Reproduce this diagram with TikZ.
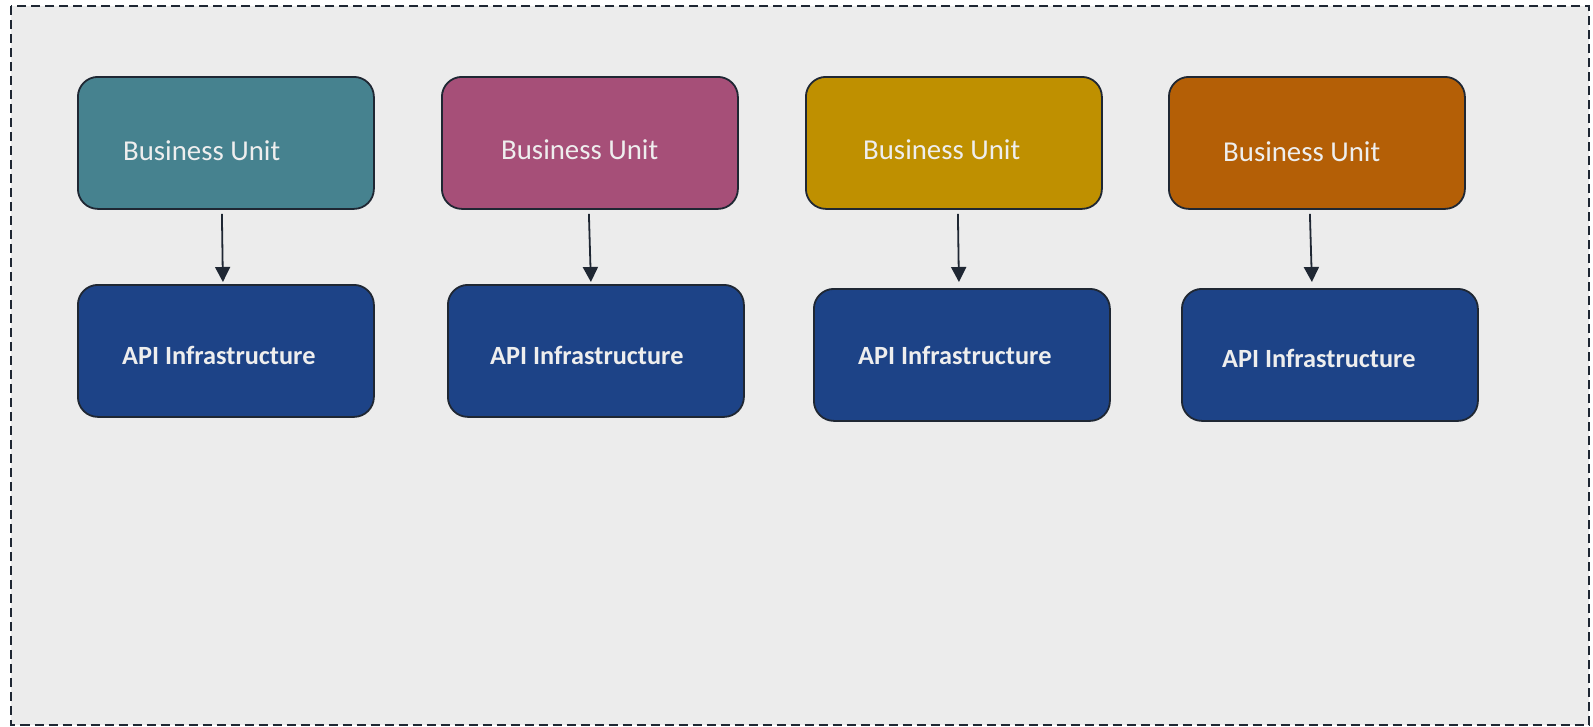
\documentclass[tikz,border=0pt]{standalone}
\usepackage{fontspec}
\setmainfont{Carlito}
\usetikzlibrary{arrows.meta,calc}
\definecolor{bg}{HTML}{ECECEC}
\definecolor{edge}{HTML}{1F2733}
\definecolor{txt}{HTML}{EEEEEE}
\definecolor{teal}{HTML}{46828F}
\definecolor{mag}{HTML}{A64F78}
\definecolor{gold}{HTML}{BF9000}
\definecolor{rust}{HTML}{B45F06}
\definecolor{navy}{HTML}{1D4387}
\begin{document}
\begin{tikzpicture}[x=1pt,y=-1pt,
  box/.style={draw=edge,line width=1.8pt,rounded corners=20pt,minimum width=296pt,minimum height=132pt,inner sep=0pt,anchor=north west},
  butext/.style={anchor=base west,inner sep=0pt,text=txt,font=\fontsize{28.8}{30}\selectfont},
  apitext/.style={anchor=base west,inner sep=0pt,text=txt,font=\bfseries\fontsize{26.3}{28}\selectfont},
  arr/.style={draw=edge,line width=1.8pt,-{Triangle[width=15pt,length=15pt]}},
  frame/.style={draw=edge,line width=2pt,dash pattern=on 9pt off 5pt,fill=bg}]
\useasboundingbox (0,0) rectangle (1593,726);
\draw[frame] (11,6) rectangle (1589,724.5);

\node[box,fill=teal] (bu1) at (77,76) {};
\node[box,fill=mag]  (bu2) at (441,76) {};
\node[box,fill=gold] (bu3) at (805,76) {};
\node[box,fill=rust] (bu4) at (1168,76) {};

\node[box,fill=navy] (api1) at (77,284) {};
\node[box,fill=navy] (api2) at (447,284) {};
\node[box,fill=navy] (api3) at (813,288) {};
\node[box,fill=navy] (api4) at (1181,288) {};

\node[butext] (t1) at (123,160) {Business Unit};
\node[butext] (t2) at (501,159) {Business Unit};
\node[butext] (t3) at (863,159) {Business Unit};
\node[butext] (t4) at (1223,161) {Business Unit};

\node[apitext] (a1) at (122,364) {API Infrastructure};
\node[apitext] (a2) at (490,364) {API Infrastructure};
\node[apitext] (a3) at (858,364) {API Infrastructure};
\node[apitext] (a4) at (1222,367) {API Infrastructure};

\draw[arr] ($(bu1.south)+(-4,4)$) -- ($(api1.north)+(-3,-2)$);
\draw[arr] ($(bu2.south)+(-1,4)$) -- ($(api2.north)+(-5,-2)$);
\draw[arr] ($(bu3.south)+(4,4)$) -- ($(api3.north)+(-3,-6)$);
\draw[arr] ($(bu4.south)+(-7,4)$) -- ($(api4.north)+(-18,-6)$);
\end{tikzpicture}
\end{document}
